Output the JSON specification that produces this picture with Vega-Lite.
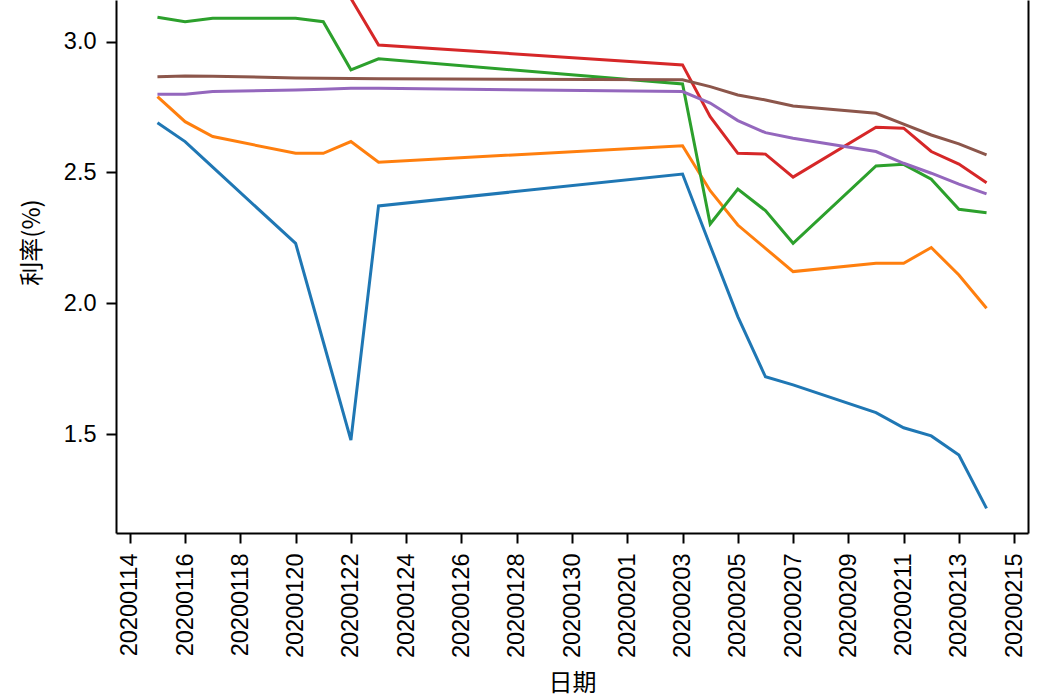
{
  "$schema": "https://vega.github.io/schema/vega-lite/v6.json",
  "width": 912,
  "height": 533,
  "autosize": "none",
  "padding": {"left": 116, "top": 0, "right": 22, "bottom": 167},
  "background": "white",
  "config": {
    "view": {"stroke": null},
    "axis": {
      "domainColor": "black",
      "domainWidth": 2,
      "tickColor": "black",
      "tickWidth": 2,
      "tickSize": 10,
      "labelColor": "black",
      "labelFont": "Liberation Sans",
      "labelFontSize": 23.5,
      "titleColor": "black",
      "titleFont": "Noto Sans CJK SC",
      "titleFontSize": 24,
      "titleFontWeight": "normal",
      "grid": false
    }
  },
  "datasets": {
    "rates": [
      {"date": "2020-01-15", "series": "1", "rate": 2.690},
      {"date": "2020-01-16", "series": "1", "rate": 2.618},
      {"date": "2020-01-17", "series": "1", "rate": 2.520},
      {"date": "2020-01-20", "series": "1", "rate": 2.229},
      {"date": "2020-01-21", "series": "1", "rate": 1.853},
      {"date": "2020-01-22", "series": "1", "rate": 1.477},
      {"date": "2020-01-23", "series": "1", "rate": 2.372},
      {"date": "2020-02-03", "series": "1", "rate": 2.494},
      {"date": "2020-02-04", "series": "1", "rate": 2.220},
      {"date": "2020-02-05", "series": "1", "rate": 1.949},
      {"date": "2020-02-06", "series": "1", "rate": 1.719},
      {"date": "2020-02-07", "series": "1", "rate": 1.688},
      {"date": "2020-02-10", "series": "1", "rate": 1.582},
      {"date": "2020-02-11", "series": "1", "rate": 1.524},
      {"date": "2020-02-12", "series": "1", "rate": 1.493},
      {"date": "2020-02-13", "series": "1", "rate": 1.420},
      {"date": "2020-02-14", "series": "1", "rate": 1.216},

      {"date": "2020-01-15", "series": "2", "rate": 2.790},
      {"date": "2020-01-16", "series": "2", "rate": 2.694},
      {"date": "2020-01-17", "series": "2", "rate": 2.637},
      {"date": "2020-01-20", "series": "2", "rate": 2.573},
      {"date": "2020-01-21", "series": "2", "rate": 2.573},
      {"date": "2020-01-22", "series": "2", "rate": 2.618},
      {"date": "2020-01-23", "series": "2", "rate": 2.539},
      {"date": "2020-02-03", "series": "2", "rate": 2.602},
      {"date": "2020-02-04", "series": "2", "rate": 2.430},
      {"date": "2020-02-05", "series": "2", "rate": 2.299},
      {"date": "2020-02-06", "series": "2", "rate": 2.210},
      {"date": "2020-02-07", "series": "2", "rate": 2.121},
      {"date": "2020-02-10", "series": "2", "rate": 2.153},
      {"date": "2020-02-11", "series": "2", "rate": 2.153},
      {"date": "2020-02-12", "series": "2", "rate": 2.213},
      {"date": "2020-02-13", "series": "2", "rate": 2.108},
      {"date": "2020-02-14", "series": "2", "rate": 1.981},

      {"date": "2020-01-15", "series": "3", "rate": 3.093},
      {"date": "2020-01-16", "series": "3", "rate": 3.076},
      {"date": "2020-01-17", "series": "3", "rate": 3.089},
      {"date": "2020-01-20", "series": "3", "rate": 3.089},
      {"date": "2020-01-21", "series": "3", "rate": 3.076},
      {"date": "2020-01-22", "series": "3", "rate": 2.892},
      {"date": "2020-01-23", "series": "3", "rate": 2.934},
      {"date": "2020-02-03", "series": "3", "rate": 2.838},
      {"date": "2020-02-04", "series": "3", "rate": 2.303},
      {"date": "2020-02-05", "series": "3", "rate": 2.436},
      {"date": "2020-02-06", "series": "3", "rate": 2.354},
      {"date": "2020-02-07", "series": "3", "rate": 2.229},
      {"date": "2020-02-10", "series": "3", "rate": 2.525},
      {"date": "2020-02-11", "series": "3", "rate": 2.531},
      {"date": "2020-02-12", "series": "3", "rate": 2.474},
      {"date": "2020-02-13", "series": "3", "rate": 2.359},
      {"date": "2020-02-14", "series": "3", "rate": 2.346},

      {"date": "2020-01-15", "series": "4", "rate": 3.246},
      {"date": "2020-01-16", "series": "4", "rate": 3.240},
      {"date": "2020-01-17", "series": "4", "rate": 3.235},
      {"date": "2020-01-20", "series": "4", "rate": 3.230},
      {"date": "2020-01-21", "series": "4", "rate": 3.220},
      {"date": "2020-01-22", "series": "4", "rate": 3.165},
      {"date": "2020-01-23", "series": "4", "rate": 2.987},
      {"date": "2020-02-03", "series": "4", "rate": 2.911},
      {"date": "2020-02-04", "series": "4", "rate": 2.713},
      {"date": "2020-02-05", "series": "4", "rate": 2.573},
      {"date": "2020-02-06", "series": "4", "rate": 2.570},
      {"date": "2020-02-07", "series": "4", "rate": 2.482},
      {"date": "2020-02-10", "series": "4", "rate": 2.673},
      {"date": "2020-02-11", "series": "4", "rate": 2.669},
      {"date": "2020-02-12", "series": "4", "rate": 2.580},
      {"date": "2020-02-13", "series": "4", "rate": 2.532},
      {"date": "2020-02-14", "series": "4", "rate": 2.461},

      {"date": "2020-01-15", "series": "5", "rate": 2.799},
      {"date": "2020-01-16", "series": "5", "rate": 2.799},
      {"date": "2020-01-17", "series": "5", "rate": 2.809},
      {"date": "2020-01-20", "series": "5", "rate": 2.815},
      {"date": "2020-01-21", "series": "5", "rate": 2.818},
      {"date": "2020-01-22", "series": "5", "rate": 2.822},
      {"date": "2020-01-23", "series": "5", "rate": 2.822},
      {"date": "2020-02-03", "series": "5", "rate": 2.809},
      {"date": "2020-02-04", "series": "5", "rate": 2.765},
      {"date": "2020-02-05", "series": "5", "rate": 2.698},
      {"date": "2020-02-06", "series": "5", "rate": 2.652},
      {"date": "2020-02-07", "series": "5", "rate": 2.631},
      {"date": "2020-02-10", "series": "5", "rate": 2.580},
      {"date": "2020-02-11", "series": "5", "rate": 2.535},
      {"date": "2020-02-12", "series": "5", "rate": 2.497},
      {"date": "2020-02-13", "series": "5", "rate": 2.455},
      {"date": "2020-02-14", "series": "5", "rate": 2.418},

      {"date": "2020-01-15", "series": "6", "rate": 2.866},
      {"date": "2020-01-16", "series": "6", "rate": 2.869},
      {"date": "2020-01-17", "series": "6", "rate": 2.868},
      {"date": "2020-01-20", "series": "6", "rate": 2.861},
      {"date": "2020-01-21", "series": "6", "rate": 2.860},
      {"date": "2020-01-22", "series": "6", "rate": 2.859},
      {"date": "2020-01-23", "series": "6", "rate": 2.858},
      {"date": "2020-02-03", "series": "6", "rate": 2.854},
      {"date": "2020-02-04", "series": "6", "rate": 2.828},
      {"date": "2020-02-05", "series": "6", "rate": 2.796},
      {"date": "2020-02-06", "series": "6", "rate": 2.777},
      {"date": "2020-02-07", "series": "6", "rate": 2.754},
      {"date": "2020-02-10", "series": "6", "rate": 2.726},
      {"date": "2020-02-11", "series": "6", "rate": 2.685},
      {"date": "2020-02-12", "series": "6", "rate": 2.643},
      {"date": "2020-02-13", "series": "6", "rate": 2.609},
      {"date": "2020-02-14", "series": "6", "rate": 2.567}
    ]
  },
  "data": {"name": "rates"},
  "layer": [
    {
      "mark": {"type": "line", "strokeWidth": 3, "clip": true},
      "encoding": {
        "x": {
          "field": "date",
          "type": "temporal",
          "scale": {
            "type": "utc",
            "domain": [
              {"year": 2020, "month": 1, "date": 13, "hours": 12, "utc": true},
              {"year": 2020, "month": 2, "date": 15, "hours": 12, "utc": true}
            ]
          },
          "axis": {
            "title": "日期",
            "format": "%Y%m%d",
            "labelAngle": -90,
            "labelPadding": 10,
            "titlePadding": 14,
            "values": [
              {"year": 2020, "month": 1, "date": 14, "utc": true},
              {"year": 2020, "month": 1, "date": 16, "utc": true},
              {"year": 2020, "month": 1, "date": 18, "utc": true},
              {"year": 2020, "month": 1, "date": 20, "utc": true},
              {"year": 2020, "month": 1, "date": 22, "utc": true},
              {"year": 2020, "month": 1, "date": 24, "utc": true},
              {"year": 2020, "month": 1, "date": 26, "utc": true},
              {"year": 2020, "month": 1, "date": 28, "utc": true},
              {"year": 2020, "month": 1, "date": 30, "utc": true},
              {"year": 2020, "month": 2, "date": 1, "utc": true},
              {"year": 2020, "month": 2, "date": 3, "utc": true},
              {"year": 2020, "month": 2, "date": 5, "utc": true},
              {"year": 2020, "month": 2, "date": 7, "utc": true},
              {"year": 2020, "month": 2, "date": 9, "utc": true},
              {"year": 2020, "month": 2, "date": 11, "utc": true},
              {"year": 2020, "month": 2, "date": 13, "utc": true},
              {"year": 2020, "month": 2, "date": 15, "utc": true}
            ]
          }
        },
        "y": {
          "field": "rate",
          "type": "quantitative",
          "scale": {"domain": [1.122, 3.159], "nice": false, "zero": false},
          "axis": {
            "title": "利率(%)",
            "values": [1.5, 2.0, 2.5, 3.0],
            "format": ".1f",
            "labelPadding": 10,
            "titleAngle": -90,
            "titleBaseline": "middle",
            "titleAlign": "center",
            "titleX": -84,
            "titleY": 242
          }
        },
        "color": {
          "field": "series",
          "type": "nominal",
          "scale": {
            "domain": ["1", "2", "3", "4", "5", "6"],
            "range": ["#1f77b4", "#ff7f0e", "#2ca02c", "#d62728", "#9467bd", "#8c564b"]
          },
          "legend": null
        }
      }
    },
    {
      "mark": {"type": "line", "opacity": 0, "clip": true},
      "encoding": {
        "x": {"field": "date", "type": "temporal"},
        "y": {
          "field": "rate",
          "type": "quantitative",
          "axis": {"orient": "right", "labels": false, "ticks": false, "title": null, "grid": false}
        },
        "detail": {"field": "series", "type": "nominal"}
      }
    }
  ],
  "resolve": {"axis": {"y": "independent"}}
}
